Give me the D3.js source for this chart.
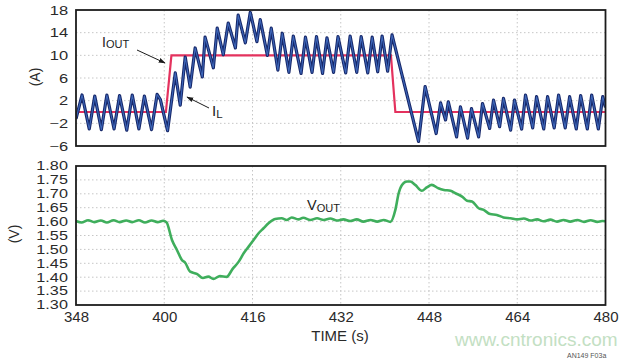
<!DOCTYPE html>
<html>
<head>
<meta charset="utf-8">
<script src="https://cdn.jsdelivr.net/npm/d3@7/dist/d3.min.js"></script>
<style>
body { margin: 0; background: #fff; }
svg { display: block; font-family: "Liberation Sans", Arial, sans-serif; }
.grid line { stroke: #c6c6c6; stroke-width: 1; stroke-dasharray: 1.5,2.5; }
.axis path, .axis line { display: none; }
.axis text { fill: #2a2a2a; }
.frame { fill: none; stroke: #1c1c1c; stroke-width: 1.8; }
</style>
</head>
<body>
<div id="chart"></div>
<script>
// time axis (s) - first label is printed "348" in the original figure
var timeTicks = [384, 400, 416, 432, 448, 464, 480];
var timeLabels = ['348', '400', '416', '432', '448', '464', '480'];

var ampTicks = [-6, -2, 2, 6, 10, 14, 18];
var voltTicks = [1.30, 1.35, 1.40, 1.45, 1.50, 1.55, 1.60, 1.65, 1.70, 1.75, 1.80];

// I_OUT load step (A)
var iOut = [[384, 0], [400.3, 0], [401.3, 10], [441.1, 10], [441.9, 0], [480, 0]];

// I_L inductor current (A), peaks and valleys of the ripple
var iL = [
    [384.0, -1.2], [385.1, 3.0], [386.4, -3.0], [387.4, 2.8], [388.6, -3.1], [389.6, 3.0],
    [390.9, -3.0], [391.9, 2.9], [393.2, -3.2], [394.2, 3.0], [395.4, -3.0], [396.4, 2.8],
    [397.7, -3.1], [398.7, 3.1], [399.3, 2.2], [400.6, -3.3],
    [402.0, 6.9], [402.9, 1.2], [403.8, 9.7], [404.7, 4.4], [405.6, 11.3], [406.9, 6.2],
    [407.4, 13.2], [408.9, 7.8], [409.6, 14.8], [410.7, 10.1], [411.6, 15.7], [412.9, 11.3],
    [413.4, 17.1], [414.7, 12.2], [415.6, 17.6], [416.8, 12.4], [417.4, 16.3], [418.7, 10.0],
    [419.4, 14.8], [420.6, 7.4],
    [421.4, 13.9], [422.6, 7.0], [423.4, 13.4], [424.8, 6.8], [425.6, 13.2], [426.8, 7.0],
    [427.6, 13.3], [428.7, 6.8], [429.5, 13.1], [430.7, 7.0], [431.5, 13.3], [432.9, 6.9],
    [433.7, 13.4], [434.9, 7.0], [435.7, 13.3], [436.9, 6.9], [437.7, 13.2], [438.7, 7.1],
    [439.5, 13.4], [440.5, 7.2], [441.3, 13.6],
    [446.1, -5.2], [447.3, 4.5], [448.5, -0.5], [449.3, -3.8], [450.1, 1.6], [451.0, -1.4],
    [451.5, 1.8], [453.0, -4.4], [453.7, 0.9], [455.0, -4.6], [455.7, 0.6], [457.0, -4.4],
    [457.7, 1.5], [459.0, -2.9], [459.7, 2.1], [460.8, -2.6], [461.5, 2.4], [462.8, -3.2],
    [463.5, 2.1], [464.8, -3.0], [465.5, 3.0], [466.8, -2.8], [467.5, 2.7], [468.8, -3.0],
    [469.5, 2.7], [470.7, -2.8], [471.5, 3.0], [472.7, -2.8], [473.5, 2.7], [474.7, -3.0],
    [475.5, 2.9], [476.7, -3.0], [477.5, 3.0], [478.7, -3.0], [479.5, 2.7], [480.0, 0.8]
];

// V_OUT output voltage (V)
var vOut = [
    [384.0, 1.602], [385.0, 1.597], [386.2, 1.605], [387.3, 1.598], [388.5, 1.604], [389.6, 1.597],
    [390.8, 1.605], [391.9, 1.598], [393.1, 1.604], [394.2, 1.598], [395.4, 1.605], [396.5, 1.597],
    [397.7, 1.604], [398.8, 1.598], [399.8, 1.603], [400.4, 1.598], [401.4, 1.534], [402.3, 1.498],
    [403.2, 1.462], [403.8, 1.452], [404.7, 1.420], [405.9, 1.412], [407.0, 1.397], [408.0, 1.402],
    [408.9, 1.394], [410.1, 1.404], [411.3, 1.401], [412.4, 1.430], [413.5, 1.456], [414.4, 1.486],
    [415.3, 1.510], [416.2, 1.534], [417.1, 1.558], [418.0, 1.576], [418.9, 1.594], [420.1, 1.609],
    [421.3, 1.612], [422.2, 1.606], [423.1, 1.615], [424.3, 1.608], [425.2, 1.614], [426.5, 1.606],
    [427.7, 1.612], [428.9, 1.606], [430.1, 1.611], [431.3, 1.604], [432.5, 1.608], [433.7, 1.602],
    [434.9, 1.608], [436.1, 1.600], [437.4, 1.606], [438.6, 1.600], [439.8, 1.606], [441.0, 1.599],
    [441.9, 1.642], [442.5, 1.702], [443.1, 1.732], [444.0, 1.744], [444.6, 1.744], [445.5, 1.732],
    [446.7, 1.711], [447.6, 1.723], [448.5, 1.732], [449.7, 1.720], [450.7, 1.714], [451.9, 1.711],
    [452.8, 1.702], [454.0, 1.690], [454.9, 1.675], [455.8, 1.672], [457.0, 1.648], [457.9, 1.642],
    [459.1, 1.627], [460.3, 1.624], [461.5, 1.615], [462.8, 1.612], [464.0, 1.608], [465.2, 1.611],
    [466.4, 1.604], [467.6, 1.608], [468.8, 1.601], [470.0, 1.607], [471.2, 1.600], [472.4, 1.606],
    [473.6, 1.600], [474.9, 1.606], [476.1, 1.599], [477.3, 1.605], [478.5, 1.599], [479.4, 1.602],
    [480.0, 1.601]
];

var width = 640,
    height = 360,
    left = 76,
    right = 605.5,
    top1 = 10, bottom1 = 146,
    top2 = 166, bottom2 = 305;

var svg = d3.select('#chart').append('svg')
    .attr('width', width)
    .attr('height', height);

var defs = svg.append('defs');

defs.append('marker')
    .attr('id', 'arrow')
    .attr('viewBox', '0 0 10 10')
    .attr('refX', 9)
    .attr('refY', 5)
    .attr('markerWidth', 7)
    .attr('markerHeight', 7)
    .attr('orient', 'auto')
    .append('path')
    .attr('d', 'M0,1.5L10,5L0,8.5z')
    .attr('fill', '#1c1c1c');

var xScale = d3.scaleLinear().domain([384, 480]).range([left, right]);
var yAmp = d3.scaleLinear().domain([-6, 18]).range([bottom1, top1]);
var yVolt = d3.scaleLinear().domain([1.30, 1.80]).range([bottom2, top2]);

function panel(id, yScale, yTicks, top, bottom) {
    defs.append('clipPath')
        .attr('id', id)
        .append('rect')
        .attr('x', left)
        .attr('y', top)
        .attr('width', right - left)
        .attr('height', bottom - top);

    var grid = svg.append('g').attr('class', 'grid');
    grid.selectAll('.vg')
        .data(timeTicks.slice(1, -1))
        .enter().append('line')
        .attr('x1', function(d) { return xScale(d); })
        .attr('x2', function(d) { return xScale(d); })
        .attr('y1', top)
        .attr('y2', bottom);
    grid.selectAll('.hg')
        .data(yTicks.slice(1, -1))
        .enter().append('line')
        .attr('x1', left)
        .attr('x2', right)
        .attr('y1', function(d) { return yScale(d); })
        .attr('y2', function(d) { return yScale(d); });

    return svg.append('g').attr('clip-path', 'url(#' + id + ')');
}

var g1 = panel('clip1', yAmp, ampTicks, top1, bottom1);
var g2 = panel('clip2', yVolt, voltTicks, top2, bottom2);

var ampLine = d3.line()
    .x(function(d) { return xScale(d[0]); })
    .y(function(d) { return yAmp(d[1]); });

var voltLine = d3.line()
    .curve(d3.curveMonotoneX)
    .x(function(d) { return xScale(d[0]); })
    .y(function(d) { return yVolt(d[1]); });

g1.append('path')
    .datum(iOut)
    .attr('d', ampLine)
    .attr('fill', 'none')
    .attr('stroke', '#e4325e')
    .attr('stroke-width', 2.2);

g1.append('path')
    .datum(iL)
    .attr('d', ampLine)
    .attr('fill', 'none')
    .attr('stroke', '#17286a')
    .attr('stroke-width', 3.2)
    .attr('stroke-linejoin', 'round');

g1.append('path')
    .datum(iL)
    .attr('d', ampLine)
    .attr('fill', 'none')
    .attr('stroke', '#3d66b8')
    .attr('stroke-width', 1.1)
    .attr('stroke-linejoin', 'round');

g2.append('path')
    .datum(vOut)
    .attr('d', voltLine)
    .attr('fill', 'none')
    .attr('stroke', '#3fae5c')
    .attr('stroke-width', 2.6)
    .attr('stroke-linejoin', 'round');

// frames
svg.append('rect').attr('class', 'frame')
    .attr('x', left).attr('y', top1)
    .attr('width', right - left).attr('height', bottom1 - top1);
svg.append('rect').attr('class', 'frame')
    .attr('x', left).attr('y', top2)
    .attr('width', right - left).attr('height', bottom2 - top2);

// axes
var yAxisAmp = d3.axisLeft(yAmp)
    .tickValues(ampTicks)
    .tickSize(0)
    .tickPadding(6)
    .tickFormat(function(d) { return d < 0 ? '\u2212' + Math.abs(d) : d; });

var yAxisVolt = d3.axisLeft(yVolt)
    .tickValues(voltTicks)
    .tickSize(0)
    .tickPadding(6)
    .tickFormat(d3.format('.2f'));

var xAxis = d3.axisBottom(xScale)
    .tickValues(timeTicks)
    .tickSize(0)
    .tickPadding(6)
    .tickFormat(function(d, i) { return timeLabels[i]; });

svg.append('g')
    .attr('class', 'axis')
    .attr('transform', 'translate(' + left + ',0)')
    .call(yAxisAmp)
    .selectAll('text')
    .style('font-size', '12.5px')
    .attr('transform', 'scale(1.32,1)');

svg.append('g')
    .attr('class', 'axis')
    .attr('transform', 'translate(' + left + ',0)')
    .call(yAxisVolt)
    .selectAll('text')
    .style('font-size', '12px')
    .attr('transform', 'scale(1.35,1)');

svg.append('g')
    .attr('class', 'axis')
    .attr('transform', 'translate(0,' + bottom2 + ')')
    .call(xAxis)
    .selectAll('text')
    .style('font-size', '15px');

// axis titles
svg.append('text')
    .attr('transform', 'translate(40,77) rotate(-90)')
    .attr('text-anchor', 'middle')
    .style('font-size', '14px')
    .attr('fill', '#2a2a2a')
    .text('(A)');

svg.append('text')
    .attr('transform', 'translate(19,234) rotate(-90)')
    .attr('text-anchor', 'middle')
    .style('font-size', '14px')
    .attr('fill', '#2a2a2a')
    .text('(V)');

svg.append('text')
    .attr('x', 340)
    .attr('y', 341)
    .attr('text-anchor', 'middle')
    .style('font-size', '15px')
    .attr('fill', '#2a2a2a')
    .text('TIME (s)');

// annotations
function label(x, y, main, sub, size, subSize, dy) {
    var t = svg.append('text')
        .attr('x', x)
        .attr('y', y)
        .attr('fill', '#1c1c1c')
        .style('font-size', size + 'px');
    t.append('tspan').text(main);
    t.append('tspan')
        .attr('dy', dy)
        .style('font-size', subSize + 'px')
        .text(sub);
}

label(102, 47, 'I', 'OUT', 14, 11, 1);
label(212, 116, 'I', 'L', 15, 11.5, 2);
label(307, 210, 'V', 'OUT', 14.5, 11, 2);

svg.append('line')
    .attr('x1', 137).attr('y1', 50)
    .attr('x2', 165).attr('y2', 63)
    .attr('stroke', '#1c1c1c')
    .attr('stroke-width', 1)
    .attr('marker-end', 'url(#arrow)');

svg.append('line')
    .attr('x1', 209).attr('y1', 108)
    .attr('x2', 187).attr('y2', 97)
    .attr('stroke', '#1c1c1c')
    .attr('stroke-width', 1)
    .attr('marker-end', 'url(#arrow)');

// source marks
svg.append('text')
    .attr('x', 455)
    .attr('y', 346)
    .style('font-size', '19px')
    .attr('fill', '#c3e0c3')
    .text('www.cntronics.com');

svg.append('text')
    .attr('x', 567)
    .attr('y', 358)
    .style('font-size', '7px')
    .attr('fill', '#555')
    .text('AN149 F03a');
</script>
</body>
</html>
